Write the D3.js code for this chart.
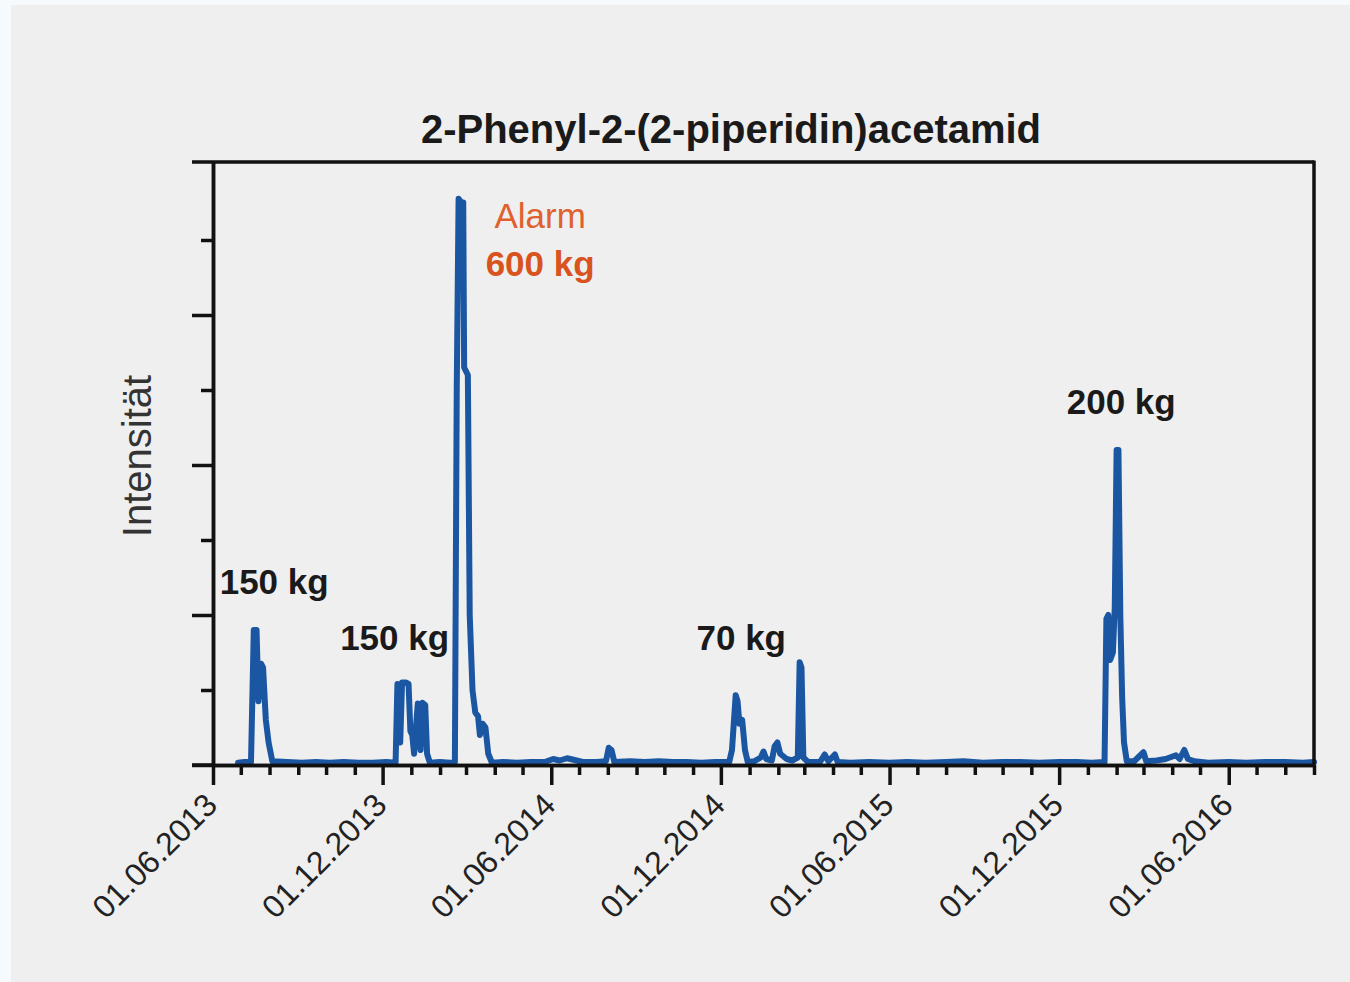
<!DOCTYPE html>
<html><head><meta charset="utf-8">
<script src="https://cdn.jsdelivr.net/npm/d3@7"></script>
<style>
html,body{margin:0;padding:0;background:#f6fafc;}
svg{display:block;}
text{font-family:"Liberation Sans",Arial,Helvetica,sans-serif;}
</style></head>
<body>
<svg id="chart" width="1350" height="982"></svg>
<script>
// ---- data ----
const dates = [
"2013-06-28","2013-07-05","2013-07-12","2013-07-15","2013-07-18","2013-07-20","2013-07-23","2013-07-25","2013-07-28","2013-07-31","2013-08-04",
"2013-08-20","2013-09-05","2013-09-20","2013-10-05","2013-10-20","2013-11-05","2013-11-20","2013-12-05","2013-12-15",
"2013-12-17","2013-12-20","2013-12-22","2013-12-26","2013-12-29","2013-12-31","2014-01-02","2014-01-04","2014-01-06","2014-01-08","2014-01-11","2014-01-13","2014-01-16","2014-01-18","2014-01-21",
"2014-02-01","2014-02-12","2014-02-17","2014-02-19","2014-02-21","2014-02-24","2014-02-26","2014-02-27","2014-03-03","2014-03-05","2014-03-08","2014-03-11","2014-03-14","2014-03-16","2014-03-19","2014-03-22","2014-03-25","2014-03-29",
"2014-04-10","2014-04-25","2014-05-10","2014-05-25","2014-06-03","2014-06-10","2014-06-18","2014-06-25","2014-07-05","2014-07-20","2014-07-30","2014-08-02","2014-08-05","2014-08-08",
"2014-08-25","2014-09-10","2014-09-25","2014-10-10","2014-10-25","2014-11-10","2014-11-25","2014-12-10",
"2014-12-13","2014-12-17","2014-12-19","2014-12-21","2014-12-24","2014-12-27","2014-12-30","2015-01-06","2015-01-13","2015-01-16","2015-01-19","2015-01-25","2015-01-28","2015-01-31","2015-02-03","2015-02-10","2015-02-16","2015-02-22","2015-02-24","2015-02-26","2015-02-28",
"2015-03-05","2015-03-18","2015-03-23","2015-03-27","2015-04-03","2015-04-06","2015-04-20","2015-05-10","2015-06-01","2015-06-20","2015-07-10","2015-08-01","2015-08-20","2015-09-10","2015-10-01","2015-10-20","2015-11-10","2015-12-01","2015-12-20","2016-01-05",
"2016-01-19","2016-01-21","2016-01-23","2016-01-25","2016-01-28","2016-01-30","2016-02-01","2016-02-03","2016-02-05","2016-02-07","2016-02-09","2016-02-12","2016-02-20","2016-03-01","2016-03-04","2016-03-15","2016-03-25","2016-04-05","2016-04-09","2016-04-14","2016-04-18","2016-04-25",
"2016-05-10","2016-06-01","2016-06-20","2016-07-10","2016-08-01","2016-08-20","2016-09-01"
];
const values = [
0.03,0.04,0.04,1.8,1.8,0.85,1.35,1.3,0.6,0.3,0.05,
0.04,0.03,0.04,0.03,0.04,0.03,0.03,0.04,0.03,
1.08,0.3,1.1,1.1,1.08,0.45,0.4,0.15,0.5,0.82,0.2,0.83,0.8,0.15,0.03,
0.04,0.03,0.04,5.0,7.55,7.5,7.5,5.3,5.2,2.0,1.0,0.7,0.65,0.4,0.55,0.5,0.15,0.03,
0.04,0.03,0.04,0.04,0.08,0.06,0.09,0.07,0.04,0.04,0.05,0.23,0.2,0.04,
0.05,0.04,0.05,0.04,0.04,0.03,0.04,0.04,
0.2,0.93,0.85,0.55,0.6,0.2,0.04,0.05,0.1,0.18,0.08,0.06,0.25,0.3,0.15,0.08,0.06,0.1,1.37,1.3,0.1,
0.04,0.04,0.14,0.05,0.14,0.04,0.03,0.04,0.03,0.04,0.03,0.04,0.05,0.03,0.04,0.04,0.03,0.04,0.04,0.03,
0.04,1.95,2.0,1.4,1.5,2.1,4.2,4.2,2.0,0.9,0.3,0.05,0.05,0.17,0.05,0.06,0.08,0.13,0.08,0.2,0.08,0.05,
0.03,0.04,0.03,0.04,0.04,0.03,0.04
];
const xDomain = ["2013-06-01","2016-09-01"];
const majorTickDates = ["2013-06-01","2013-12-01","2014-06-01","2014-12-01","2015-06-01","2015-12-01","2016-06-01"];
const yMajorTicks = [0,2,4,6];
const yMinorTicks = [1,3,5,7];
const yMax = 8.04;
const titleText = "2-Phenyl-2-(2-piperidin)acetamid";
const yLabel = "Intensität";
const annotations = [
  {date:"2013-08-06", value:2.28, lines:[{t:"150 kg", bold:true, c:"#1a1a1a"}]},
  {date:"2013-12-14", value:1.53, lines:[{t:"150 kg", bold:true, c:"#1a1a1a"}]},
  {date:"2014-05-20", value:7.16, lines:[{t:"Alarm", bold:false, c:"#e0602e"},{t:"600 kg", bold:true, c:"#d8531d"}]},
  {date:"2014-12-23", value:1.53, lines:[{t:"70 kg", bold:true, c:"#1a1a1a"}]},
  {date:"2016-02-06", value:4.68, lines:[{t:"200 kg", bold:true, c:"#1a1a1a"}]}
];

// ---- drawing ----
const parse = d3.utcParse("%Y-%m-%d");
const data = dates.map((d,i)=>({date:parse(d), value:values[i]}));
const svg = d3.select("#chart");
const W=1350,H=982;
const L=213,R=1314,T=162,B=765;

svg.append("rect").attr("x",11).attr("y",5).attr("width",W-11).attr("height",H-5).attr("fill","#efefef");

const x = d3.scaleUtc().domain(xDomain.map(parse)).range([L,R]);
const y = d3.scaleLinear().domain([0,yMax]).range([B,T]);

const axisColor="#111";
const sw=3.5;

// title
svg.append("text").attr("x",731).attr("y",143).attr("text-anchor","middle")
  .attr("font-size",40).attr("font-weight","bold").attr("fill","#1a1a1a").text(titleText);

// y label
svg.append("text").attr("transform",`translate(151,456) rotate(-90)`)
  .attr("text-anchor","middle").attr("font-size",40).attr("fill","#333").text(yLabel);

// line
const line = d3.line().x(d=>x(d.date)).y(d=>y(d.value));
svg.append("path").datum(data).attr("d",line).attr("fill","none")
  .attr("stroke","#1b56a3").attr("stroke-width",6).attr("stroke-linejoin","round").attr("stroke-linecap","round");

// frame: top and right
svg.append("line").attr("x1",L-21).attr("x2",R).attr("y1",T).attr("y2",T).attr("stroke",axisColor).attr("stroke-width",sw);
svg.append("line").attr("x1",R).attr("x2",R).attr("y1",T-1.5).attr("y2",B).attr("stroke",axisColor).attr("stroke-width",sw);

// y axis
const gy = svg.append("g").attr("transform",`translate(${L},0)`);
gy.call(d3.axisLeft(y).tickValues(yMajorTicks).tickSize(21).tickSizeOuter(0).tickFormat(""));
gy.append("g").call(d3.axisLeft(y).tickValues(yMinorTicks).tickSize(12).tickSizeOuter(0).tickFormat(""));
gy.selectAll("path.domain").attr("stroke",axisColor).attr("stroke-width",sw);
gy.selectAll(".tick line").attr("stroke",axisColor).attr("stroke-width",sw);

// x axis
const gx = svg.append("g").attr("transform",`translate(0,${B})`);
const monthTicks = d3.utcMonth.range(parse(xDomain[0]), d3.utcDay.offset(parse(xDomain[1]),1));
const majorSet = new Set(majorTickDates);
const fmtKey = d3.utcFormat("%Y-%m-%d");
const minorTicks = monthTicks.filter(d=>!majorSet.has(fmtKey(d)));
gx.call(d3.axisBottom(x).tickValues(minorTicks).tickSize(10).tickSizeOuter(0).tickFormat(""));
gx.append("g").call(d3.axisBottom(x).tickValues(majorTickDates.map(parse)).tickSize(20).tickSizeOuter(0).tickFormat(""));
gx.selectAll("path.domain").attr("stroke",axisColor).attr("stroke-width",sw);
gx.selectAll(".tick line").attr("stroke",axisColor).attr("stroke-width",sw);
// extend bottom line left
svg.append("line").attr("x1",L-21).attr("x2",L).attr("y1",B).attr("y2",B).attr("stroke",axisColor).attr("stroke-width",sw);

// x labels
const fmt = d3.utcFormat("%d.%m.%Y");
svg.append("g").selectAll("text").data(majorTickDates.map(parse)).join("text")
  .attr("transform",d=>`translate(${x(d)+6},${B+42}) rotate(-45)`)
  .attr("text-anchor","end").attr("font-size",32).attr("fill","#222").text(d=>fmt(d));

// annotations
annotations.forEach(a=>{
  const g = svg.append("text").attr("x",x(parse(a.date))).attr("y",y(a.value)).attr("text-anchor","middle").attr("font-size",35);
  a.lines.forEach((ln,i)=>{
    g.append("tspan").attr("x",x(parse(a.date))).attr("dy",i===0?0:"1.38em")
      .attr("font-weight",ln.bold?"bold":"normal").attr("fill",ln.c).text(ln.t);
  });
});
</script>
</body></html>
